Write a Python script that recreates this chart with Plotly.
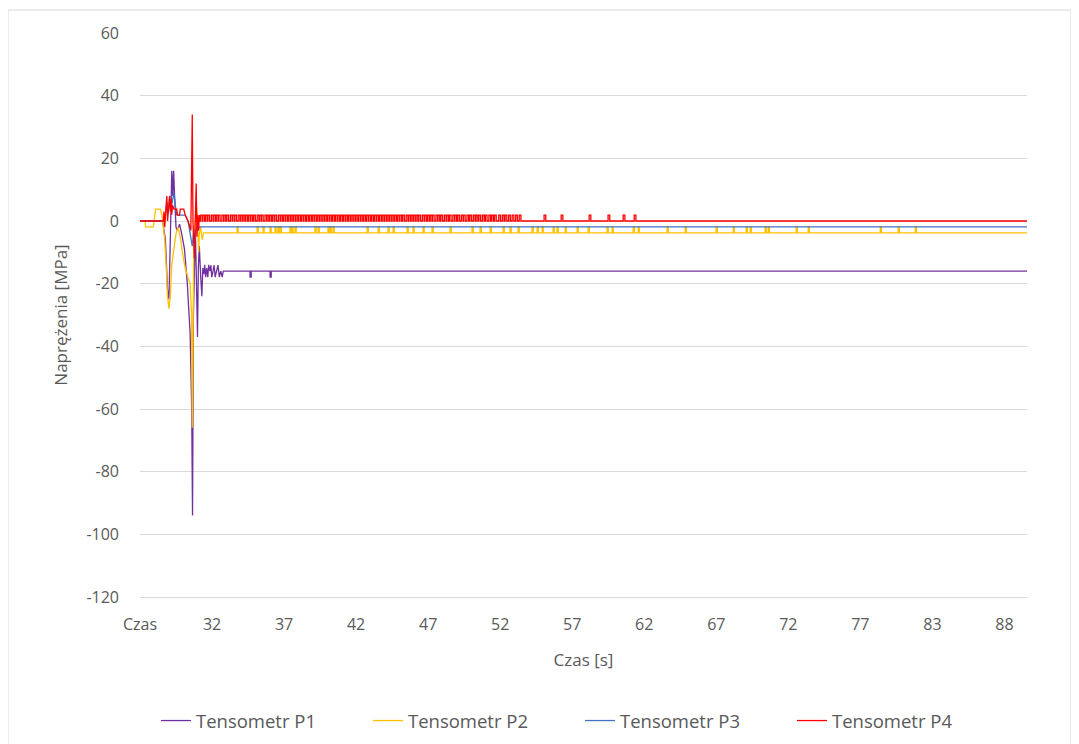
import plotly.graph_objects as go

# ---------------- data ----------------
series_names = ["Tensometr P1", "Tensometr P2", "Tensometr P3", "Tensometr P4"]

# time axis labels (category labels of the original chart)
tick_labels = ["Czas", "32", "37", "42", "47", "52", "57", "62", "67", "72", "77", "83", "88"]
first_label_time = 26.9
label_step = 5.1
t_end = 89.7

y_ticks = [-120, -100, -80, -60, -40, -20, 0, 20, 40, 60]

# --- early transient (time [s], value [MPa]) ---
p1_t = [26.9, 28.5, 28.6, 28.7, 28.85, 28.95, 29.05, 29.1, 29.15, 29.22, 29.28, 29.35, 29.45, 29.55, 29.7, 29.85,
        30.05, 30.25, 30.45, 30.56, 30.62, 30.68, 30.75, 30.82, 30.9, 30.97, 31.03, 31.1, 31.2, 31.28, 31.35,
        31.42, 31.48, 31.55, 31.62, 31.7, 31.76, 31.85, 31.92, 31.98, 32.07, 32.15, 32.22, 32.33, 32.42,
        32.52, 32.62, 32.72, 32.8, 32.9]
p1_v = [0, 0, -3, -6, -22, -25, -5, 10, 16, 8, 16, 8, -2, -3, -1, -4,
        -9, -20, -36, -60, -94, -30, -10, -3, -20, -37, -15, -8, -18, -24, -15,
        -17, -14, -17.9, -15, -17.9, -14, -16, -14.1, -17.9, -16, -14.1, -17.9, -16, -14.1,
        -17.9, -16, -17.9, -16, -16]

p2_t = [26.9, 27.25, 27.3, 27.85, 27.9, 27.95, 28.0, 28.35, 28.45, 28.55, 28.65, 28.75, 28.85, 28.95, 29.05,
        29.15, 29.3, 29.45, 29.6, 29.75, 29.9, 30.1, 30.3, 30.45, 30.55, 30.6, 30.65, 30.7, 30.8, 30.9,
        30.95, 31.0, 31.05, 31.1, 31.2, 31.3, 31.4]
p2_v = [0, 0, -1.9, -1.9, 0, 1.9, 3.8, 3.8, 1.9, -1.9, -6, -14, -24, -28, -24,
        -14, -8, -4, -2, -5, -10, -15, -18, -20, -30, -66, -40, -10, 0, 5,
        2, -6, -10, -4, -1.9, -6, -3.8]

p3_t = [26.9, 28.6, 28.7, 28.8, 28.9, 29.0, 29.1, 29.2, 29.3, 29.4, 29.5, 29.6, 30.1, 30.3, 30.5, 30.6,
        30.7, 30.8, 30.9, 31.0, 31.1]
p3_v = [0, 0, 2, 6, 3, 8, 4, 7, 9, 5, 2, 1.9, 1.9, 0, -5, -8,
        -3, -6, -1.9, -3, -1.9]

p4_t = [26.9, 28.55, 28.6, 28.65, 28.75, 28.8, 28.85, 28.95, 29.0, 29.05, 29.1, 29.15, 29.2, 29.3, 29.5,
        29.55, 29.7, 29.75, 30.0, 30.1, 30.3, 30.5, 30.55, 30.6, 30.65, 30.7, 30.75, 30.8, 30.88, 30.93,
        30.98, 31.05, 31.1, 31.15]
p4_v = [0, 0, 3, -2, 5, 8, 0, 6, 8, 3, 7, 2, 5, 3.8, 3.8,
        1.9, 1.9, 3.8, 3.8, 1.9, 0, -3, 10, 34, 0, -10, -12, -2, 12, -5,
        2, -3, 1.9, 0]

# --- steady state levels and spikes ---
p1_base, p1_spike = -16.0, -17.9
p1_spike_times = [34.69, 36.11]

p2_base, p2_spike = -3.8, -1.9
p2_spike_times = [33.77, 35.19, 35.61, 36.11, 36.46, 36.67, 36.82, 37.52, 37.66, 37.88, 39.29, 39.51,
                  40.21, 40.36, 40.57, 42.98, 43.76, 44.46, 44.82, 45.81, 46.23, 46.94, 47.58, 48.85,
                  50.41, 50.98, 51.69, 52.61, 53.10, 53.67, 54.66, 55.02, 55.37, 56.15, 56.43, 57.00,
                  57.85, 58.63, 59.97, 60.33, 61.82, 62.17, 64.22, 65.50, 67.69, 68.90, 69.82, 70.10,
                  71.16, 71.38, 73.36, 74.21, 79.31, 80.58, 81.79]

p3_base = -1.9

p4_base, p4_spike = 0.0, 1.9
p4_spike_times = [31.2, 31.35, 31.55, 31.7, 31.95, 32.1, 32.3, 32.45, 32.7, 32.85, 33.05, 33.3, 33.45,
                  33.6, 33.85, 34.05, 34.2, 34.4, 34.6, 34.75, 34.95, 35.2, 35.35, 35.5, 35.75, 35.9,
                  36.1, 36.3, 36.45, 36.7, 36.85, 37.05, 37.2, 37.4, 37.6, 37.8, 37.95, 38.15, 38.35,
                  38.5, 38.7, 38.9, 39.1, 39.25, 39.45, 39.65, 39.8, 40.0, 40.2, 40.35, 40.55, 40.75,
                  40.9, 41.1, 41.3, 41.45, 41.65, 41.85, 42.0, 42.2, 42.4, 42.55, 42.75, 42.95, 43.1,
                  43.3, 43.5, 43.65, 43.85, 44.05, 44.2, 44.4, 44.6, 44.75, 44.95, 45.15, 45.3, 45.5,
                  45.75, 45.9, 46.1, 46.3, 46.45, 46.65, 46.9, 47.05, 47.25, 47.45, 47.6, 47.85, 48.0,
                  48.2, 48.45, 48.6, 48.8, 49.05, 49.2, 49.4, 49.65, 49.8, 50.05, 50.25, 50.5, 50.7,
                  50.9, 51.15, 51.35, 51.6, 51.8, 52.0, 52.3, 52.55, 52.75, 53.0, 53.25, 53.5, 53.75,
                  55.51, 56.72, 58.70, 60.04, 61.11, 61.89]

colors = ["#7030A0", "#FFC000", "#4472C4", "#FF0000"]

# ---------------- build series ----------------
def build(pre_t, pre_v, base, spike, spike_times, width):
    xs, ys = list(pre_t), list(pre_v)
    t0 = xs[-1]
    for ts in spike_times:
        if ts <= t0:
            continue
        xs += [ts, ts, ts + width, ts + width]
        ys += [base, spike, spike, base]
    xs.append(t_end)
    ys.append(base)
    return xs, ys

p1 = build(p1_t, p1_v, p1_base, p1_spike, p1_spike_times, 0.08)
p2 = build(p2_t, p2_v, p2_base, p2_spike, p2_spike_times, 0.08)
p3 = build(p3_t, p3_v, p3_base, p3_base, [], 0.08)
p4 = build(p4_t, p4_v, p4_base, p4_spike, p4_spike_times, 0.12)

fig = go.Figure()
for name, (xs, ys), c in zip(series_names, [p1, p2, p3, p4], colors):
    fig.add_trace(go.Scatter(x=xs, y=ys, mode="lines", name=name,
                             line=dict(color=c, width=1.3)))

tickvals = [first_label_time + i * label_step for i in range(len(tick_labels))]

font_fam = "Open Sans, Liberation Sans, sans-serif"
grey = "#595959"

fig.update_layout(
    width=1071, height=736,
    margin=dict(l=132, r=52, t=25, b=147, autoexpand=False),
    paper_bgcolor="white", plot_bgcolor="white",
    font=dict(family=font_fam, size=16, color=grey),
    xaxis=dict(range=[first_label_time, t_end], tickmode="array", tickvals=tickvals,
               ticktext=tick_labels, showgrid=False, zeroline=False, showline=True,
               linecolor="#d9d9d9", ticks="", ticklabelstandoff=13,
               title=dict(text="Czas [s]", font=dict(size=17, color=grey), standoff=19)),
    yaxis=dict(range=[-120, 60], tickmode="array", tickvals=y_ticks,
               ticktext=[str(v) for v in y_ticks], showgrid=True, gridcolor="#d9d9d9", gridwidth=1,
               zeroline=False, showline=False, ticks="", ticklabelstandoff=20,
               title=dict(text="Naprężenia [MPa]", font=dict(size=17, color=grey), standoff=14)),
    legend=dict(orientation="h", x=0.018, xanchor="left", y=-0.2199, yanchor="middle",
                entrywidth=167, entrywidthmode="pixels", font=dict(size=18.5, color=grey)),
    showlegend=True,
)

fig.add_shape(type="rect", xref="paper", yref="paper", x0=-0.1488, x1=1.0496, y0=-0.2713, y1=1.0408,
              line=dict(color="#d9d9d9", width=1), fillcolor="rgba(0,0,0,0)", layer="below")

fig.write_html("out.html")
